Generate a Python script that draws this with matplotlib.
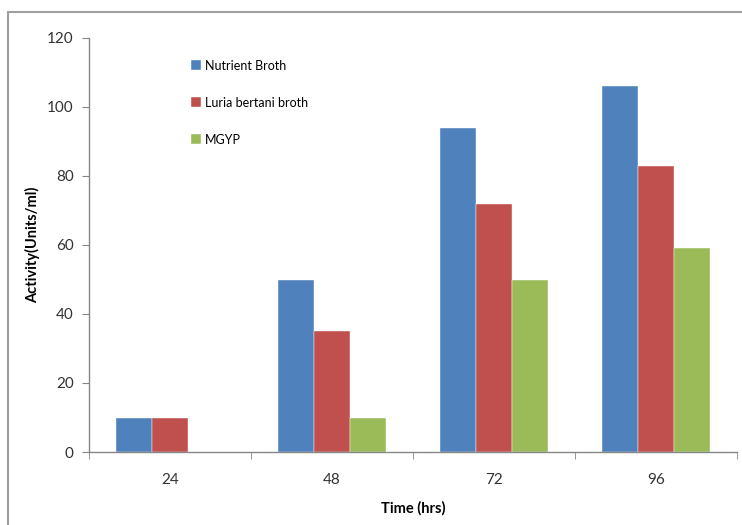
import matplotlib
matplotlib.use("Agg")
import matplotlib.pyplot as plt
import numpy as np
from matplotlib.patches import Rectangle

categories = ["24", "48", "72", "96"]
series_names = ["Nutrient Broth", "Luria bertani broth", "MGYP"]
nutrient = [10, 50, 94, 106]
luria = [10, 35, 72, 83]
mgyp = [0, 10, 50, 59]
colors = ["#4F81BD", "#C0504D", "#9BBB59"]

plt.rcParams['font.family'] = ['Lato', 'DejaVu Sans']

fig = plt.figure(figsize=(7.42, 5.25), dpi=100)
fig.patches.append(Rectangle((8/742, -0.1), 2.0, 1 - 12/525 + 0.1, transform=fig.transFigure,
                             fill=False, edgecolor="#A0A0A0", linewidth=1.5))
ax = fig.add_axes([89/742, 1 - 452/525, (737 - 89)/742, (452 - 38)/525])

x = np.arange(len(categories))
w = 0.222
for i, (vals, c, name) in enumerate(zip([nutrient, luria, mgyp], colors, series_names)):
    ax.bar(x + (i - 1) * w, vals, width=w, color=c, label=name, edgecolor="white", linewidth=0.3)

ax.set_xlim(-0.5, len(categories) - 0.5)
ax.set_ylim(0, 120)
ax.set_yticks(np.arange(0, 121, 20))
ax.set_xticks(x)
ax.set_xticklabels(categories)
ax.set_xticks(np.arange(-0.5, len(categories), 1), minor=True)
ax.tick_params(axis='x', which='major', length=0, pad=15, labelsize=11, colors="#333333")
ax.tick_params(axis='x', which='minor', length=5, color="#868686", direction='out')
ax.tick_params(axis='y', length=5, color="#868686", labelsize=11, labelcolor="#333333", pad=6)
for s in ["top", "right"]:
    ax.spines[s].set_visible(False)
for s in ["left", "bottom"]:
    ax.spines[s].set_color("#868686")
    ax.spines[s].set_linewidth(1.0)

ax.set_ylabel("Activity(Units/ml)", fontsize=10.5, fontweight="bold", labelpad=5)
ax.set_xlabel("Time (hrs)", fontsize=10.5, fontweight="bold", labelpad=10)

ax.legend(loc="upper left", bbox_to_anchor=(0.14, 0.975), frameon=False, fontsize=9,
          handlelength=0.8, handleheight=0.8, handletextpad=0.3, labelspacing=2.0)

fig.savefig("out.png", dpi=100)
